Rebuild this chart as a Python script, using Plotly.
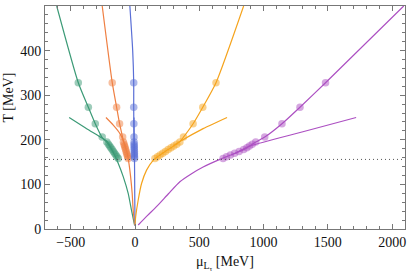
import plotly.graph_objects as go

# ---- data ----
T_high = [206, 236, 273, 328]
T_cluster = [158, 162, 166, 170, 174, 178, 182, 186, 190, 195]

# lattice points (x = mu in MeV)
green_cluster = [-130, -140, -149, -159, -168, -178, -188, -197, -207, -219]
green_high = [-255, -309, -363, -441]
orange_cluster = [-53, -57, -61, -65, -69, -73, -77, -81, -85, -90]
orange_high = [-96, -120, -143, -177]
blue_cluster = [-4, -4, -5, -5, -5, -6, -6, -6, -7, -7]
blue_high = [-8, -9, -10, -10]
yellow_cluster = [155, 175, 195, 216, 237, 258, 280, 302, 325, 349]
yellow_high = [377, 452, 527, 630]
purple_cluster = [685, 712, 742, 775, 810, 845, 870, 890, 912, 939]
purple_high = [1009, 1143, 1283, 1482]

# main fit curves (mu, T)
green_main_mu = [-3, -27, -53, -91, -130, -164, -220, -255, -309, -363, -441, -609]
green_main_T = [8, 42, 80, 117, 147, 169, 195, 205, 236, 273, 328, 500]
orange_main_mu = [-2, -14, -22, -34, -47, -60, -90, -96, -120, -143, -177, -255]
orange_main_T = [8, 42, 80, 117, 147, 169, 197, 205, 236, 273, 328, 500]
blue_main_mu = [0, -2, -4, -7, -9, -10, -10, -18, -40]
blue_main_T = [8, 80, 158, 197, 236, 273, 328, 400, 500]
yellow_main_mu = [0, 5, 25, 51, 90, 141, 175, 258, 349, 377, 452, 527, 630, 845]
yellow_main_T = [9, 27, 65, 102, 132, 154, 162, 178, 196, 206, 236, 273, 328, 500]
purple_main_mu = [25, 100, 167, 260, 349, 440, 530, 660, 745, 845, 939, 1009, 1143, 1283, 1482, 2090]
purple_main_T = [9, 31, 50, 79, 106, 124, 139, 156, 166, 178, 195, 206, 236, 273, 328, 500]

# secondary (low-T) fits
green_sec_mu = [-165, -215, -273, -376, -512]
green_sec_T = [170, 196, 207, 225, 250]
orange_sec_mu = [-70, -92, -117, -169, -226]
orange_sec_T = [180, 199, 214, 233, 250]
blue_sec_mu = [-5, -7, -8]
blue_sec_T = [170, 200, 250]
yellow_sec_mu = [300, 349, 530, 716]
yellow_sec_T = [187, 196, 225, 250]
purple_sec_mu = [780, 893, 1306, 1720]
purple_sec_T = [170, 186, 218, 250]

T_c = 156

colors = {
    "green": "#3b9a76",
    "orange": "#ef7f42",
    "blue": "#5a6fd6",
    "yellow": "#f5a31c",
    "purple": "#ac4fc2",
}

series = [
    ("green", green_main_mu, green_main_T, green_sec_mu, green_sec_T, green_cluster + green_high),
    ("orange", orange_main_mu, orange_main_T, orange_sec_mu, orange_sec_T, orange_cluster + orange_high),
    ("blue", blue_main_mu, blue_main_T, blue_sec_mu, blue_sec_T, blue_cluster + blue_high),
    ("yellow", yellow_main_mu, yellow_main_T, yellow_sec_mu, yellow_sec_T, yellow_cluster + yellow_high),
    ("purple", purple_main_mu, purple_main_T, purple_sec_mu, purple_sec_T, purple_cluster + purple_high),
]

fig = go.Figure()
T_points = T_cluster + T_high
for name, mmu, mT, smu, sT, pmu in series:
    c = colors[name]
    fig.add_trace(go.Scatter(x=mmu, y=mT, mode="lines", line=dict(color=c, width=1.2, shape="spline", smoothing=0.6),
                             showlegend=False, hoverinfo="skip"))
    fig.add_trace(go.Scatter(x=smu, y=sT, mode="lines", line=dict(color=c, width=1.2, shape="spline", smoothing=0.6),
                             showlegend=False, hoverinfo="skip"))
    fig.add_trace(go.Scatter(x=pmu, y=T_points, mode="markers",
                             marker=dict(color=c, size=7.5, opacity=0.5, line=dict(width=0)),
                             showlegend=False))

fig.add_shape(type="line", xref="paper", x0=0, x1=1, yref="y", y0=T_c, y1=T_c,
              line=dict(color="#555", width=1, dash="1px,3px"))

font = "Liberation Serif, Times New Roman, serif"
axis_common = dict(
    showgrid=False, zeroline=False, showline=True, linecolor="#777", linewidth=1,
    mirror="ticks", ticks="inside", ticklen=5, tickcolor="#777", tickwidth=1,
    tickfont=dict(family=font, size=14, color="#111"),
)
fig.update_xaxes(range=[-700, 2100], dtick=500, tick0=0,
                 minor=dict(dtick=100, ticks="inside", ticklen=3, tickcolor="#777"),
                 **axis_common)
fig.update_yaxes(range=[0, 500], dtick=100, tick0=0,
                 minor=dict(dtick=20, ticks="inside", ticklen=3, tickcolor="#777"),
                 **axis_common)

fig.add_annotation(text="μ<sub>L<sub>τ</sub></sub> [MeV]", xref="paper", yref="paper", x=0.5, y=-0.152,
                   showarrow=False, font=dict(family=font, size=14, color="#111"), xanchor="center", yanchor="middle")
fig.add_annotation(text="T [MeV]", xref="paper", yref="paper", x=-0.1025, y=0.59, textangle=-90,
                   showarrow=False, font=dict(family=font, size=14, color="#111"), xanchor="center", yanchor="middle")

fig.update_layout(width=407, height=271, autosize=False,
                  margin=dict(l=44.5, r=1.7, t=5.7, b=42, pad=0),
                  plot_bgcolor="white", paper_bgcolor="white")

fig.write_html("out.html", config={"displayModeBar": False})

# remove default page margin so the 407x271 figure fills the window exactly
with open("out.html", "r", encoding="utf-8") as f:
    html = f.read()
html = html.replace("<head>", "<head><style>html,body{margin:0;padding:0;overflow:hidden;}</style>", 1)
with open("out.html", "w", encoding="utf-8") as f:
    f.write(html)
